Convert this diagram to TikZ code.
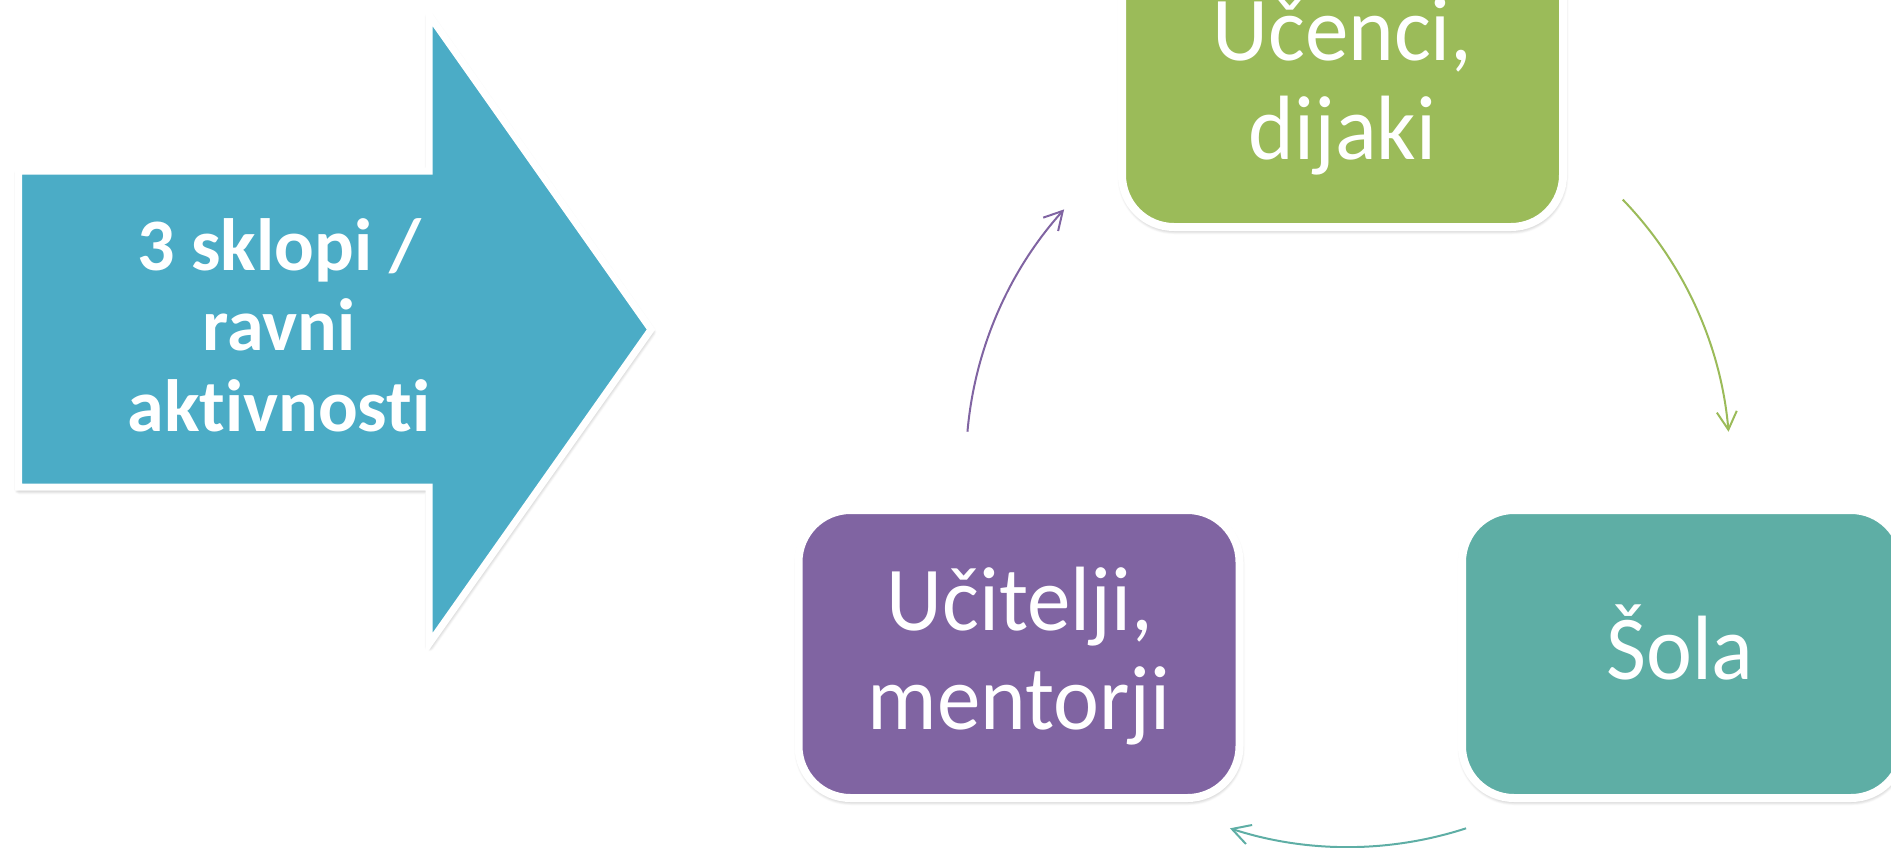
\documentclass[tikz,border=0pt]{standalone}
\usepackage{fontspec}
\setmainfont{Carlito}[Ligatures={NoCommon,NoContextual}]
\usetikzlibrary{arrows.meta,shadows.blur}
\definecolor{arrowblue}{HTML}{4BACC6}
\definecolor{boxgreen}{HTML}{9BBB59}
\definecolor{boxpurple}{HTML}{8064A2}
\definecolor{boxteal}{RGB}{94,174,165}
\tikzset{
  softshadow/.style={blur shadow={shadow xshift=0.5pt, shadow yshift=-2.5pt, shadow blur radius=5pt, shadow blur steps=8, shadow opacity=45}},
  cyclebox/.style={draw=white, line width=8pt, rounded corners=52pt, minimum width=441pt, minimum height=288pt, inner sep=0pt, softshadow},
  boxtext/.style={text=white, font=\fontsize{87pt}{99pt}\selectfont, anchor=base, inner sep=0pt},
  arrowtext/.style={text=white, font=\bfseries\fontsize{74pt}{80pt}\selectfont, anchor=base, inner sep=0pt},
  cyclearrow/.style={line width=2pt, -{Straight Barb[length=18pt, width=20pt, line width=2pt]}}
}
\newcommand{\tallish}[1]{\scalebox{1}[1.05]{#1}}
\begin{document}
\begin{tikzpicture}[x=1pt, y=-1pt]
\useasboundingbox (0,0) rectangle (1891,847);
\clip (0,0) rectangle (1891,847);
% big arrow
\path[fill=arrowblue, draw=white, line width=7pt, line join=miter, softshadow]
  (18.5,171) -- (429,171) -- (429,15) -- (651,329.5) -- (429,644) -- (429,487) -- (18.5,487) -- cycle;
\node[arrowtext] (a1) at (279,270) {3 sklopi /};
\node[arrowtext] (a2) at (279,350) {ravni};
\node[arrowtext] (a3) at (279,431) {aktivnosti};
% cycle boxes
\node[cyclebox, fill=boxgreen] (ucenci) at (1342.5,83) {};
\node[cyclebox, fill=boxteal] (sola) at (1682.5,654) {};
\node[cyclebox, fill=boxpurple] (ucitelji) at (1019,654) {};
\node[boxtext] (u1) at (1342.5,60) {\tallish{Učenci,}};
\node[boxtext] (u2) at (1342.5,159) {\tallish{dijaki}};
\node[boxtext] (s1) at (1680,679) {\tallish{Šola}};
\node[boxtext] (m1) at (1020,630) {\tallish{Učitelji,}};
\node[boxtext] (m2) at (1019,729) {\tallish{mentorji}};
% cycle arrows
\coordinate (cyc) at (1348,465);
\draw[cyclearrow, boxgreen] ([shift={(-44:382)}]cyc) arc[start angle=-44, end angle=-5, radius=382];
\draw[cyclearrow, boxteal] ([shift={(72:382)}]cyc) arc[start angle=72, end angle=108, radius=382];
\draw[cyclearrow, boxpurple] ([shift={(185:382)}]cyc) arc[start angle=185, end angle=222, radius=382];
\end{tikzpicture}
\end{document}
